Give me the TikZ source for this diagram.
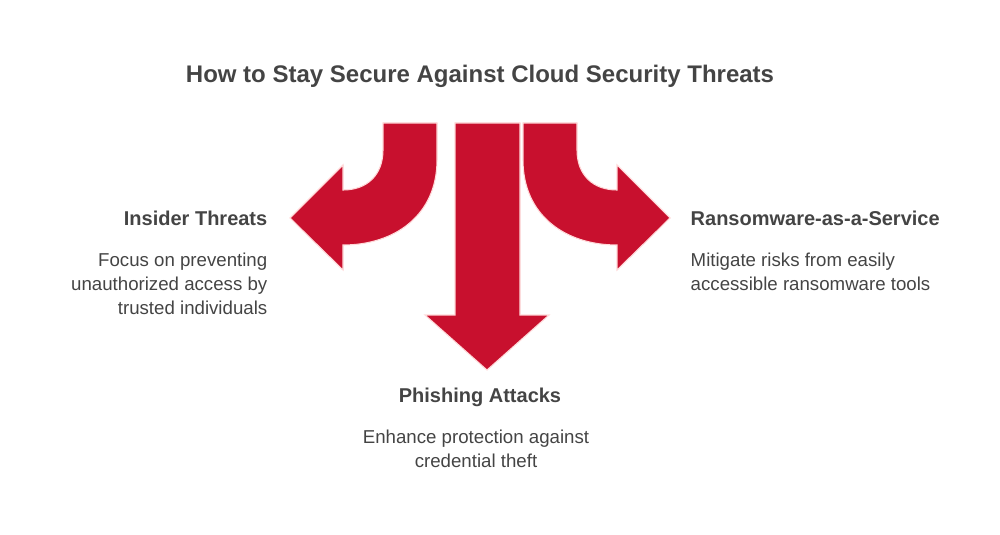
\documentclass[tikz,border=0pt]{standalone}
\usepackage{fontspec}
\setmainfont{Liberation Sans}
\definecolor{threatred}{HTML}{C8102E}
\definecolor{textgray}{HTML}{444444}
\tikzset{
    band/.style={fill=threatred, draw=red!15, line width=0.8pt},
    head/.style={font=\bfseries\fontsize{15}{18}\selectfont, text=textgray},
    body/.style={font=\fontsize{14}{18}\selectfont, text=textgray, align=#1},
}
\begin{document}
\begin{tikzpicture}[x=0.75pt,y=-0.75pt]
    \useasboundingbox (0,0) rectangle (1000,535);
    % title
    \node[font=\bfseries\fontsize{18}{22}\selectfont, text=textgray] (title) at (480,76) {How to Stay Secure Against Cloud Security Threats};
    % arrows
    \draw[band] (383,123) -- (437,123) -- (437,160)
        .. controls (437,215) and (395,245) .. (343,245) -- (343,270) -- (290,218) -- (343,165) -- (343,190)
        .. controls (367,190) and (383,175) .. (383,150) -- cycle;
    \draw[band] (577,123) -- (523,123) -- (523,160)
        .. controls (523,215) and (565,245) .. (617,245) -- (617,270) -- (670,218) -- (617,165) -- (617,190)
        .. controls (593,190) and (577,175) .. (577,150) -- cycle;
    \draw[band] (455,123) -- (520,123) -- (520,315) -- (549,315) -- (487,370) -- (425,315) -- (455,315) -- cycle;
    % labels
    \node[head, anchor=east] (insider) at (272,218) {Insider Threats};
    \node[body=right, anchor=north east] (insidertxt) at (272,248) {Focus on preventing\\unauthorized access by\\trusted individuals};
    \node[head, anchor=west] (raas) at (686,218) {Ransomware-as-a-Service};
    \node[body=left, anchor=north west] (raastxt) at (686,248) {Mitigate risks from easily\\accessible ransomware tools};
    \node[head] (phish) at (480,397) {Phishing Attacks};
    \node[body=center, anchor=north] (phishtxt) at (476,425) {Enhance protection against\\credential theft};
\end{tikzpicture}
\end{document}
